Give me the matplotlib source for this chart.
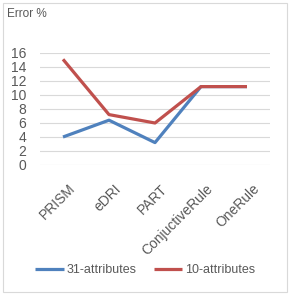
import matplotlib
matplotlib.use("Agg")
import matplotlib.pyplot as plt
from matplotlib.patches import Rectangle
from matplotlib.transforms import ScaledTranslation

categories = ["PRISM", "eDRI", "PART", "ConjuctiveRule", "OneRule"]
attr31 = [4.0, 6.4, 3.2, 11.2, 11.2]
attr10 = [15.1, 7.2, 6.0, 11.2, 11.2]

plt.rcParams['font.family'] = ['Liberation Sans', 'DejaVu Sans']
gray = '#595959'

fig = plt.figure(figsize=(2.9, 2.95), dpi=100)
fig.patches.append(Rectangle((0.012, 0.01), 0.976, 0.98, transform=fig.transFigure,
                             fill=False, edgecolor='#d9d9d9', linewidth=0.8))

ax = fig.add_axes([40/290, 1-165/295, 230/290, 112/295])
x = range(len(categories))
ax.plot(x, attr31, color='#4f81bd', linewidth=2.3, label='31-attributes', solid_capstyle='butt')
ax.plot(x, attr10, color='#c0504d', linewidth=2.3, label='10-attributes', solid_capstyle='butt')

ax.set_xlim(-0.5, len(categories) - 0.5)
ax.set_ylim(0, 16)
ax.set_yticks(range(0, 17, 2))
ax.grid(axis='y', color='#d9d9d9', linewidth=0.8)
ax.set_axisbelow(True)
for s in ax.spines.values():
    s.set_visible(False)
ax.tick_params(length=0, colors=gray, labelsize=10)
ax.tick_params(axis='y', pad=10)
ax.set_xticks(list(x))
ax.set_xticklabels(categories, rotation=45, ha='right', rotation_mode='anchor')
ax.tick_params(axis='x', pad=12)
shift = ScaledTranslation(5/100, 0, fig.dpi_scale_trans)
for lbl in ax.get_xticklabels():
    lbl.set_transform(lbl.get_transform() + shift)

fig.text(7/290, 1-14/295, 'Error %', color=gray, fontsize=8.5, va='center')

fig.legend(loc='center', bbox_to_anchor=(0.5, 1-270/295), ncol=2, frameon=False,
           fontsize=9, labelcolor=gray, handlelength=2.3, handletextpad=0.2,
           columnspacing=1.4)

fig.savefig('out.png', dpi=100)
